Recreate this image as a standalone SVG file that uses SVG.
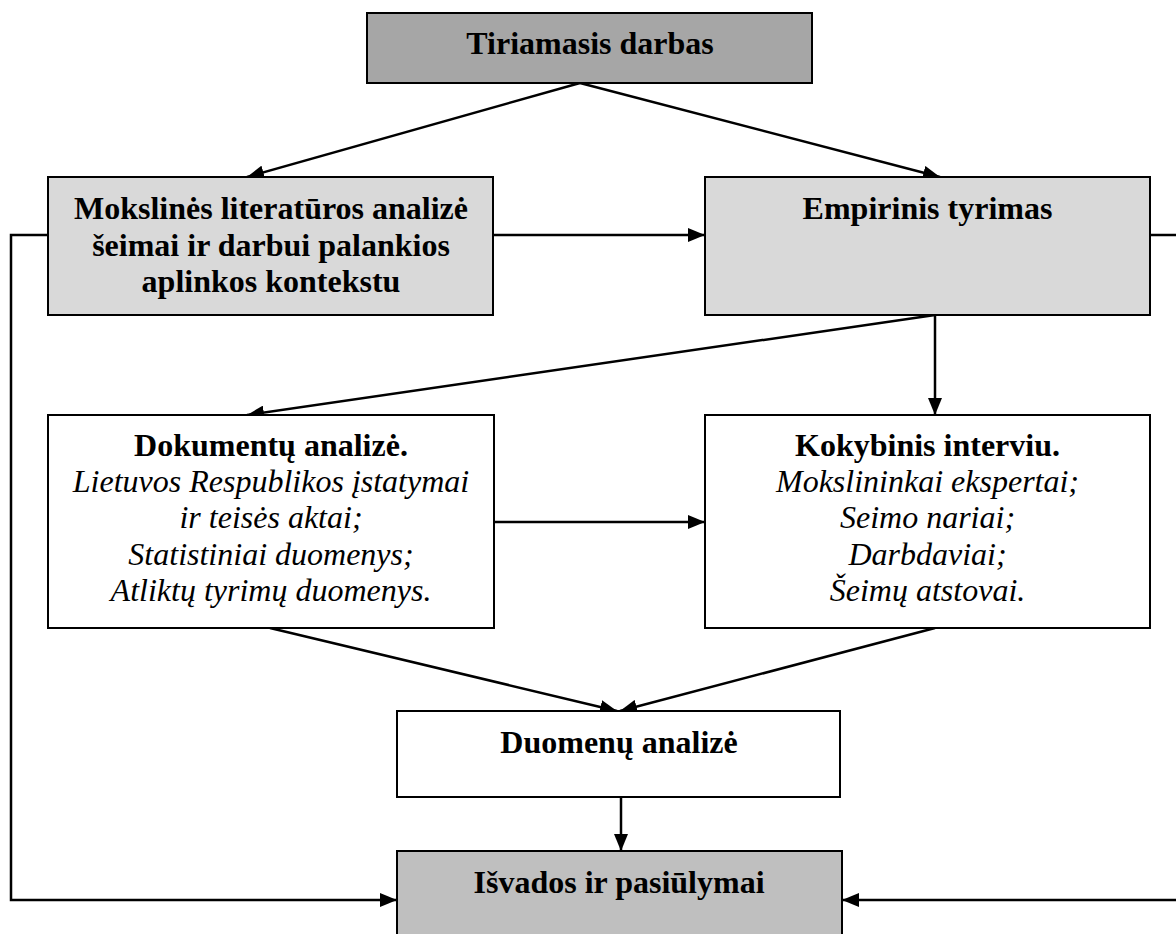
<svg xmlns="http://www.w3.org/2000/svg" width="1176" height="934" viewBox="0 0 1176 934">
<style>
.box{stroke:#000;stroke-width:2}
.t{font-family:"Liberation Serif","Times New Roman",serif;font-size:32px;text-anchor:middle;fill:#000}
.b{font-weight:bold}
.i{font-style:italic}
.c{stroke:#000;stroke-width:2.5;fill:none}
.ca{stroke:#000;stroke-width:2.5;fill:none;marker-end:url(#ah)}
</style>
<defs>
<marker id="ah" markerUnits="userSpaceOnUse" markerWidth="18" markerHeight="14" refX="17" refY="7" orient="auto">
<path d="M0,0 L17,7 L0,14 z" fill="#000"/>
</marker>
</defs>
<rect width="1176" height="934" fill="#fff"/>
<g id="connectors">
<line class="ca" x1="580" y1="83" x2="247" y2="177"/>
<line class="ca" x1="580" y1="83" x2="940" y2="177"/>
<line class="ca" x1="493" y1="235" x2="705" y2="235"/>
<line class="ca" x1="935" y1="315" x2="247" y2="415"/>
<line class="ca" x1="935" y1="315" x2="935" y2="415"/>
<line class="ca" x1="494" y1="522" x2="705" y2="522"/>
<line class="ca" x1="270" y1="628" x2="617" y2="711"/>
<line class="ca" x1="935" y1="628" x2="620" y2="711"/>
<line class="ca" x1="621" y1="797" x2="621" y2="851"/>
<polyline class="ca" points="48,235 11,235 11,900 397,900"/>
<polyline class="c" points="1150,235 1180,235"/>
<line class="ca" x1="1180" y1="900" x2="842" y2="900"/>
</g>
<g id="n-tiriamasis">
<rect class="box" x="367" y="13" width="445" height="70" fill="#a6a6a6"/>
<text class="t b" x="590" y="54">Tiriamasis darbas</text>
</g>
<g id="n-mokslines">
<rect class="box" x="48" y="177" width="445" height="138" fill="#d9d9d9"/>
<text class="t b" x="271" y="219">Mokslinės literatūros analizė</text>
<text class="t b" x="271" y="256">šeimai ir darbui palankios</text>
<text class="t b" x="271" y="292">aplinkos kontekstu</text>
</g>
<g id="n-empirinis">
<rect class="box" x="705" y="177" width="445" height="138" fill="#d9d9d9"/>
<text class="t b" x="927.5" y="219">Empirinis tyrimas</text>
</g>
<g id="n-dokumentu">
<rect class="box" x="48" y="415" width="446" height="213" fill="#fff"/>
<text class="t b" x="271" y="456">Dokumentų analizė.</text>
<text class="t i" x="271" y="492">Lietuvos Respublikos įstatymai</text>
<text class="t i" x="271" y="528">ir teisės aktai;</text>
<text class="t i" x="271" y="565">Statistiniai duomenys;</text>
<text class="t i" x="271" y="601">Atliktų tyrimų duomenys.</text>
</g>
<g id="n-kokybinis">
<rect class="box" x="705" y="415" width="445" height="213" fill="#fff"/>
<text class="t b" x="927.5" y="456">Kokybinis interviu.</text>
<text class="t i" x="927.5" y="492">Mokslininkai ekspertai;</text>
<text class="t i" x="927.5" y="528">Seimo nariai;</text>
<text class="t i" x="927.5" y="565">Darbdaviai;</text>
<text class="t i" x="927.5" y="601">Šeimų atstovai.</text>
</g>
<g id="n-duomenu">
<rect class="box" x="397" y="711" width="443" height="86" fill="#fff"/>
<text class="t b" x="619" y="753">Duomenų analizė</text>
</g>
<g id="n-isvados">
<rect class="box" x="397" y="851" width="445" height="100" fill="#bfbfbf"/>
<text class="t b" x="619" y="893">Išvados ir pasiūlymai</text>
</g>
</svg>
